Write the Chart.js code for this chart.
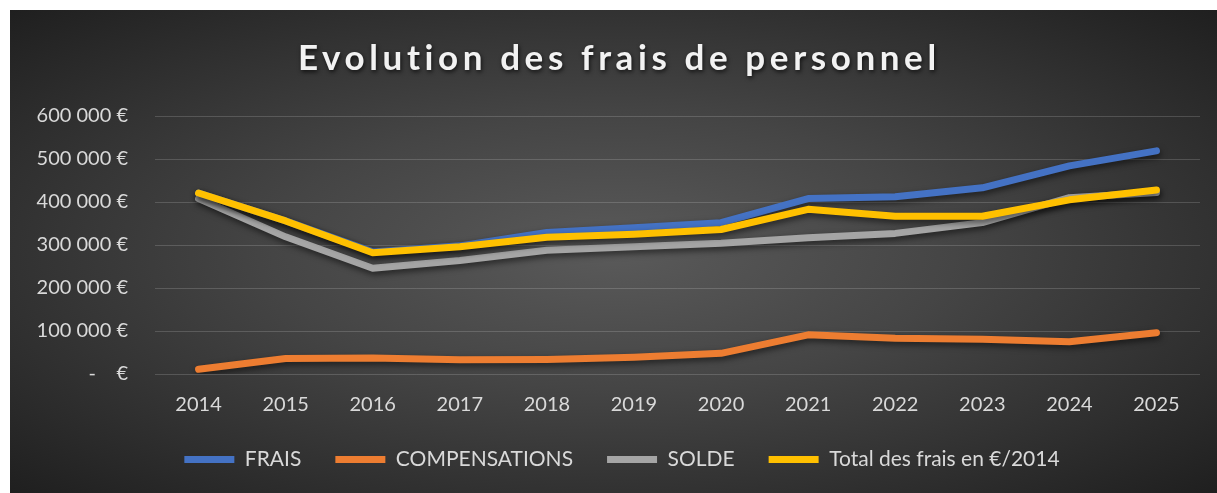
<!DOCTYPE html>
<html>
<head>
<meta charset="utf-8">
<script src="https://cdn.jsdelivr.net/npm/chart.js@4"></script>
<style>
html,body{margin:0;padding:0;background:#fff;}
#box{
position:absolute;left:10px;top:10px;width:1207px;height:483px;
background:radial-gradient(ellipse farthest-corner at 50% 50%, #5a5a5a 0%, #454545 40%, #1f1f1f 100%);
}
</style>
</head>
<body>
<div id="box"><canvas id="chart"></canvas></div>
<script>
// Data
const years=["2014","2015","2016","2017","2018","2019","2020","2021","2022","2023","2024","2025"];
const frais=[421000,356000,284000,298000,329000,340000,352000,408000,412000,433000,484000,519000];
const compensations=[11000,36000,37000,33000,34000,39000,48000,91000,83000,81000,75000,96000];
const solde=[408000,319000,246000,264000,288000,296000,304000,317000,327000,352000,410000,422000];
const totalEuro2014=[421000,356000,282000,296000,318000,325000,336000,383000,367000,367000,405000,428000];
const yTickLabels=["-    €","100 000 €","200 000 €","300 000 €","400 000 €","500 000 €","600 000 €"];
const chartTitle="Evolution des frais de personnel";

const textColor="#d9d9d9";
const font="Lato, 'Open Sans', sans-serif";

// shadow under the lines
const lineShadow={
id:"lineShadow",
beforeDatasetDraw(chart){
const ctx=chart.ctx;
ctx.save();
ctx.shadowColor="rgba(0,0,0,0.55)";
ctx.shadowBlur=6;
ctx.shadowOffsetX=1;
ctx.shadowOffsetY=3;
},
afterDatasetDraw(chart){
chart.ctx.restore();
}
};

// nudge legend to the right to sit under the plot
const legendShift={
id:"legendShift",
afterLayout(chart){
if(chart.legend){
chart.legend.left+=12;
chart.legend.right+=12;
}
}
};

// spaced title with shadow
const spacedTitle={
id:"spacedTitle",
afterDraw(chart){
const ctx=chart.ctx;
ctx.save();
ctx.font="bold 35px "+font;
ctx.letterSpacing="4.6px";
ctx.textAlign="left";
ctx.textBaseline="alphabetic";
const w=ctx.measureText(chartTitle).width-4.6;
ctx.shadowColor="rgba(0,0,0,0.7)";
ctx.shadowBlur=4;
ctx.shadowOffsetX=1;
ctx.shadowOffsetY=2;
ctx.fillStyle="#f2f2f2";
ctx.fillText(chartTitle,607-w/2,60);
ctx.restore();
}
};

function line(label,data,color,order){
return {
label:label,
data:data,
borderColor:color,
backgroundColor:color,
borderWidth:7,
borderCapStyle:"round",
borderJoinStyle:"round",
pointRadius:0,
tension:0,
order:order
};
}

new Chart(document.getElementById("chart"),{
type:"line",
data:{
labels:years,
datasets:[
line("FRAIS",frais,"#4472C4",2),
line("COMPENSATIONS",compensations,"#ED7D31",4),
line("SOLDE",solde,"#A5A5A5",3),
line("Total des frais en €/2014",totalEuro2014,"#FFC000",1)
]
},
options:{
responsive:true,
maintainAspectRatio:false,
animation:false,
layout:{padding:{top:106,left:10,right:17,bottom:13}},
plugins:{
title:{display:false},
tooltip:{enabled:false},
legend:{
position:"bottom",
labels:{
color:textColor,
font:{family:font,size:21},
usePointStyle:true,
pointStyle:"line",
pointStyleWidth:50,
boxWidth:50,
padding:34,
sort:(a,b)=>a.datasetIndex-b.datasetIndex
}
}
},
scales:{
x:{
offset:true,
grid:{display:false,drawTicks:false},
border:{display:false},
ticks:{color:textColor,font:{family:font,size:20},padding:19,maxRotation:0},
afterFit(scale){scale.height=41;}
},
y:{
min:0,
max:600000,
grid:{color:"rgba(255,255,255,0.16)",lineWidth:1,drawTicks:false},
border:{display:false},
ticks:{
stepSize:100000,
color:textColor,
font:{family:font,size:20},
padding:27,
callback:(v,i)=>yTickLabels[i]
},
afterFit(scale){scale.width=135;}
}
}
},
plugins:[lineShadow,legendShift,spacedTitle]
});
</script>
</body>
</html>
